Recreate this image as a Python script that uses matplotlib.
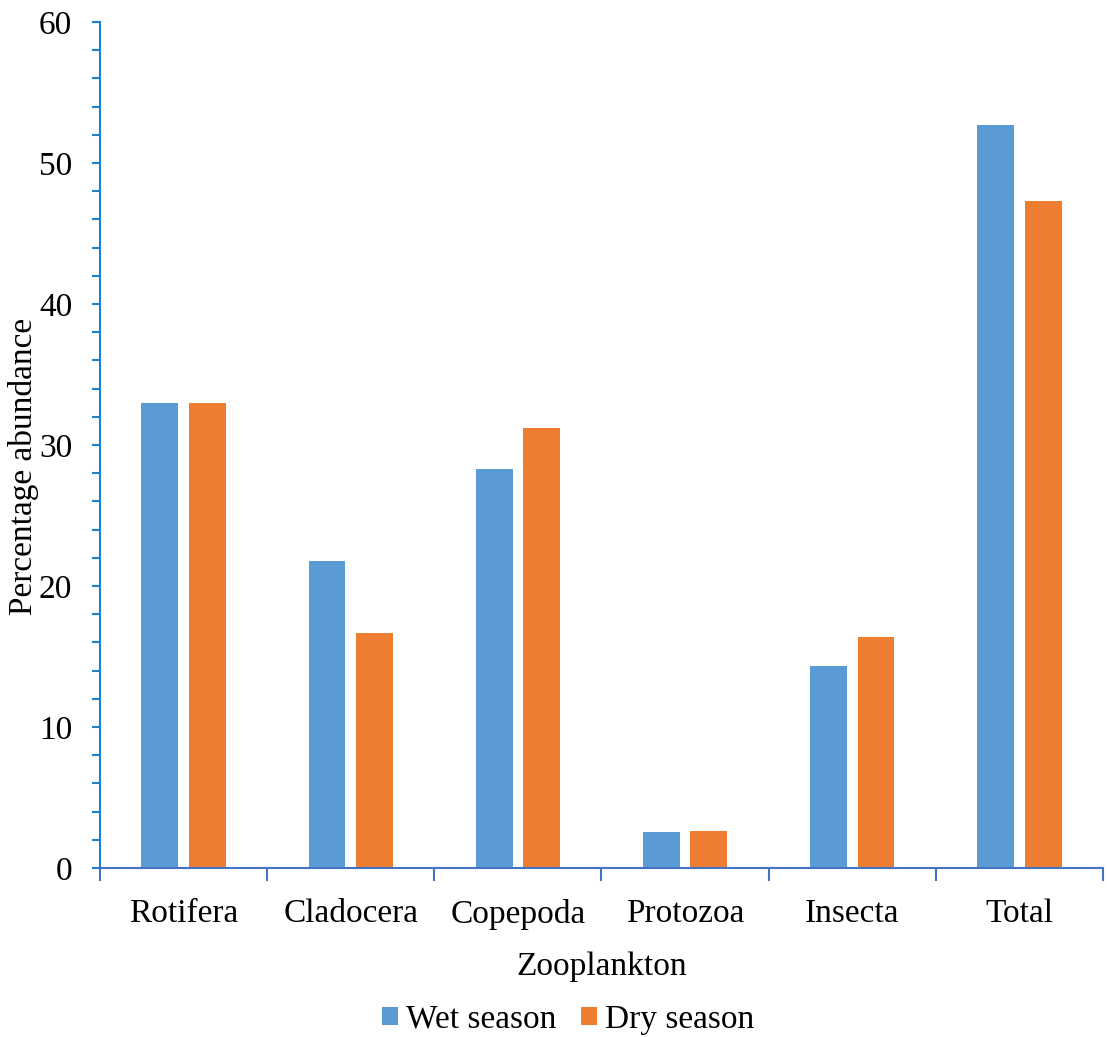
import matplotlib.pyplot as plt
from matplotlib.ticker import MultipleLocator, FixedLocator, NullFormatter
import numpy as np

categories = ['Rotifera', 'Cladocera', 'Copepoda', 'Protozoa', 'Insecta', 'Total']
wet_season = [33.0, 21.8, 28.3, 2.55, 14.3, 52.7]
dry_season = [33.0, 16.7, 31.2, 2.6, 16.4, 47.3]

plt.rcParams['font.family'] = ['Liberation Serif', 'DejaVu Serif']

fig = plt.figure(figsize=(11.07, 10.37), dpi=100)
ax = fig.add_axes([0.0903, 0.163, 0.9061, 0.8158])

x = np.arange(len(categories))
width = 0.22
ax.bar(x - 0.142, wet_season, width, color='#5B9BD5', label='Wet season')
ax.bar(x + 0.142, dry_season, width, color='#ED7D31', label='Dry season')

ax.set_xlim(-0.5, len(categories) - 0.5)
ax.set_ylim(0, 60)

fs = 24
ax.yaxis.set_major_locator(MultipleLocator(10))
ax.yaxis.set_minor_locator(MultipleLocator(2))
ax.tick_params(axis='y', which='both', direction='out', color='#1F7FD0', width=1.5, labelsize=fs, pad=14)
ax.tick_params(axis='y', which='major', length=6)
ax.tick_params(axis='y', which='minor', length=6)

ax.set_xticks(x)
ax.set_xticklabels(categories)
ax.xaxis.set_minor_locator(FixedLocator(np.arange(-0.5, len(categories), 1.0)))
ax.xaxis.set_minor_formatter(NullFormatter())
ax.tick_params(axis='x', which='major', length=0, labelsize=fs, pad=22)
ax.tick_params(axis='x', which='minor', length=9, width=1.5, color='#4472C4', direction='out')

for s in ['top', 'right']:
    ax.spines[s].set_visible(False)
ax.spines['left'].set_color('#1F7FD0')
ax.spines['left'].set_linewidth(1.5)
ax.spines['bottom'].set_color('#4472C4')
ax.spines['bottom'].set_linewidth(1.5)

ax.set_ylabel('Percentage abundance', fontsize=fs)
ax.yaxis.set_label_coords(-0.061, 0.475)
ax.set_xlabel('Zooplankton', fontsize=fs, labelpad=16)

fig.legend(loc='lower center', bbox_to_anchor=(0.513, -0.027), ncol=2, frameon=False,
           fontsize=fs, handlelength=0.48, handleheight=0.48, handletextpad=0.24, columnspacing=0.75)

fig.savefig('out.png', dpi=100)
